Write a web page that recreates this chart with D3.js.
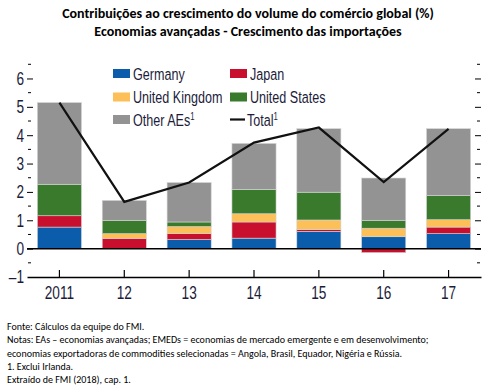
<!DOCTYPE html>
<html>
<head>
<meta charset="utf-8">
<script src="https://cdn.jsdelivr.net/npm/d3@7"></script>
<style>
  body { margin: 0; background: #fff; }
</style>
</head>
<body>
<div id="chart"></div>
<script>
// contributions to global trade volume growth, advanced economies imports

var years = ["2011", "12", "13", "14", "15", "16", "17"]
var germany = [0.76, 0.00, 0.32, 0.37, 0.61, 0.42, 0.53]
var japan = [0.40, 0.36, 0.21, 0.57, 0.06, -0.14, 0.23]
var uk = [0.00, 0.17, 0.25, 0.29, 0.34, 0.30, 0.26]
var us = [1.11, 0.47, 0.16, 0.86, 0.98, 0.28, 0.85]
var other = [2.88, 0.70, 1.39, 1.62, 2.24, 1.49, 2.36]
var total = [5.15, 1.65, 2.33, 3.74, 4.27, 2.35, 4.22]
var yTicks = [-1, 0, 1, 2, 3, 4, 5, 6]

var seriesKeys = ["germany", "japan", "uk", "us", "other"]
var colors = {
    germany: "#0b5dab",
    japan: "#c8102e",
    uk: "#fdbf58",
    us: "#3a7a2c",
    other: "#939393"
}

var width = 494
var height = 392
var margin = ({ top: 64, right: 13, bottom: 115, left: 27 })

var svg = d3.select("#chart")
    .append("svg")
    .attr("width", width)
    .attr("height", height)

// no narrow font installed, so squeeze Liberation Sans horizontally
var sans = "'Liberation Sans', Arial, sans-serif"
var squeeze = 0.78
var legendSqueeze = 0.74
var calibri = "Carlito, Calibri, 'Open Sans', sans-serif"
var labelColor = "#1c1c3a"

// build table rows for the stack
var rows = years.map((y, i) => ({
    year: y,
    germany: germany[i],
    japan: japan[i],
    uk: uk[i],
    us: us[i],
    other: other[i]
}))

var stacked = d3.stack()
    .keys(seriesKeys)
    .offset(d3.stackOffsetDiverging)(rows)

var x = d3.scaleBand()
    .domain(years)
    .range([margin.left, width - margin.right])
    .paddingInner(0.32)
    .paddingOuter(0.16)

var y = d3.scaleLinear()
    .domain([-1, 6.5])
    .range([277, 64.3])

// bars
svg.append("g")
    .selectAll("g")
    .data(stacked)
    .join("g")
    .attr("fill", d => colors[d.key])
    .selectAll("rect")
    .data(d => d)
    .join("rect")
    .attr("x", d => x(d.data.year))
    .attr("width", x.bandwidth())
    .attr("y", d => y(Math.max(d[0], d[1])))
    .attr("height", d => Math.abs(y(d[0]) - y(d[1])))
    .attr("stroke", "#d4d4d4")
    .attr("stroke-width", 0.6)

// zero line
svg.append("line")
    .attr("x1", margin.left).attr("x2", width - margin.right)
    .attr("y1", y(0)).attr("y2", y(0))
    .attr("stroke", "#000").attr("stroke-width", 1.5)

// bottom axis line at -1
var xAxis = g => g
    .attr("transform", `translate(0,${y(-1)})`)
    .call(d3.axisBottom(x).tickSizeInner(-7).tickSizeOuter(0).tickPadding(10))
    .call(g => g.select(".domain").attr("stroke-width", 1.5))
    .call(g => g.selectAll(".tick line").attr("stroke-width", 1.2))
    .call(g => g.selectAll(".tick text")
        .attr("font-family", sans)
        .attr("font-size", 17.5)
        .attr("transform", `scale(${squeeze},1)`)
        .attr("fill", labelColor))

svg.append("g").call(xAxis)

// left and right ticks, half values as minor ticks
var minor = d3.range(-0.5, 6.6, 1)

var yLeft = g => g
    .attr("transform", `translate(${margin.left},0)`)
    .call(d3.axisRight(y).tickValues(yTicks.filter(d => d > -1)).tickSize(6).tickFormat(""))
    .call(g => g.select(".domain").remove())

svg.append("g").call(yLeft)

svg.append("g")
    .selectAll("text")
    .data(yTicks)
    .join("text")
    .attr("transform", d => `translate(24,${y(d)}) scale(${squeeze},1)`)
    .attr("dy", "0.36em")
    .attr("text-anchor", "end")
    .attr("font-family", sans)
    .attr("font-size", 17.5)
    .attr("fill", labelColor)
    .text(d => d < 0 ? "\u2013" + Math.abs(d) : d)

svg.append("g")
    .attr("stroke", "#000")
    .selectAll("line")
    .data(minor)
    .join("line")
    .attr("x1", margin.left + 1).attr("x2", margin.left + 4)
    .attr("y1", d => y(d)).attr("y2", d => y(d))

var yRight = g => g
    .attr("transform", `translate(${width - margin.right},0)`)
    .call(d3.axisLeft(y).tickValues(yTicks.filter(d => d > -1)).tickSize(6).tickFormat(""))
    .call(g => g.select(".domain").remove())

svg.append("g").call(yRight)

svg.append("g")
    .attr("stroke", "#000")
    .selectAll("line")
    .data(minor)
    .join("line")
    .attr("x1", width - margin.right - 4).attr("x2", width - margin.right - 1)
    .attr("y1", d => y(d)).attr("y2", d => y(d))

// total line
var line = d3.line()
    .x((d, i) => x(years[i]) + x.bandwidth() / 2)
    .y(d => y(d))

svg.append("path")
    .datum(total)
    .attr("fill", "none")
    .attr("stroke", "#111")
    .attr("stroke-width", 2.2)
    .attr("stroke-linejoin", "miter")
    .attr("d", line)

// legend
var legendItems = [
    { key: "germany", label: "Germany", col: 0, row: 0 },
    { key: "japan", label: "Japan", col: 1, row: 0 },
    { key: "uk", label: "United Kingdom", col: 0, row: 1 },
    { key: "us", label: "United States", col: 1, row: 1 },
    { key: "other", label: "Other AEs", sup: "1", col: 0, row: 2 },
    { key: "total", label: "Total", sup: "1", col: 1, row: 2 }
]
var legendX = [113, 230]
var legendY = [73.5, 97, 119.5]

var legend = svg.append("g")
    .selectAll("g")
    .data(legendItems)
    .join("g")
    .attr("transform", d => `translate(${legendX[d.col]},${legendY[d.row]})`)

legend.filter(d => d.key !== "total")
    .append("rect")
    .attr("x", 0).attr("y", -4.5)
    .attr("width", 17).attr("height", 9)
    .attr("fill", d => colors[d.key])

legend.filter(d => d.key === "total")
    .append("line")
    .attr("x1", 0).attr("x2", 15)
    .attr("stroke", "#111").attr("stroke-width", 2.2)

var lt = legend.append("text")
    .attr("transform", d => `translate(${d.key === "total" ? 17 : 20},0) scale(${legendSqueeze},1)`)
    .attr("dy", "0.36em")
    .attr("font-family", sans)
    .attr("font-size", 17)
    .attr("fill", labelColor)

lt.append("tspan").text(d => d.label)
lt.filter(d => d.sup)
    .append("tspan")
    .attr("dy", "-0.55em")
    .attr("font-size", 10.5)
    .text(d => d.sup)

// title
var titleLines = [
    "Contribuições ao crescimento do volume do comércio global (%)",
    "Economias avançadas - Crescimento das importações"
]
svg.append("g")
    .selectAll("text")
    .data(titleLines)
    .join("text")
    .attr("x", 248)
    .attr("y", (d, i) => 18 + i * 18)
    .attr("text-anchor", "middle")
    .attr("font-family", calibri)
    .attr("font-weight", "bold")
    .attr("font-size", 14)
    .attr("fill", "#000")
    .text(d => d)

// notes
var notes = [
    "Fonte: Cálculos da equipe do FMI.",
    "Notas: EAs \u2013 economias avançadas; EMEDs = economias de mercado emergente e em desenvolvimento;",
    "economias exportadoras de commodities selecionadas = Angola, Brasil, Equador, Nigéria e Rússia.",
    "1. Exclui Irlanda.",
    "Extraído de FMI (2018), cap. 1."
]
svg.append("g")
    .selectAll("text")
    .data(notes)
    .join("text")
    .attr("x", 7)
    .attr("y", (d, i) => 330 + i * 13.3)
    .attr("font-family", calibri)
    .attr("font-size", 10)
    .attr("fill", "#000")
    .text(d => d)
</script>
</body>
</html>
